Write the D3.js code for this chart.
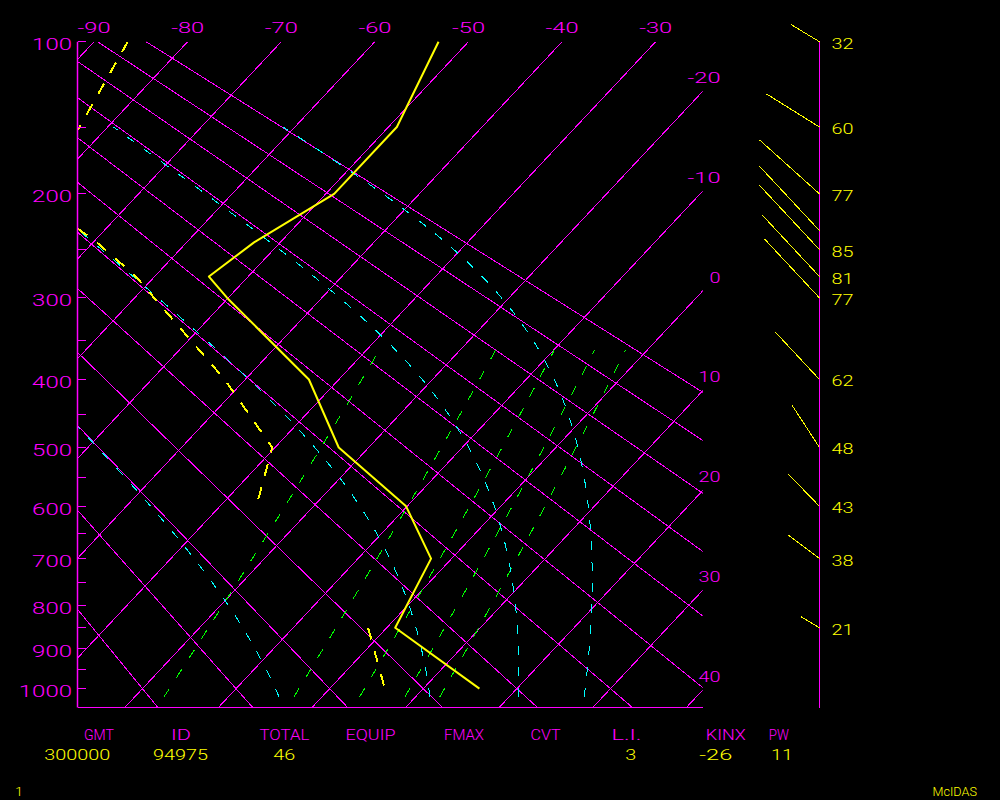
<!DOCTYPE html>
<html><head><meta charset="utf-8">
<script src="https://cdn.jsdelivr.net/npm/d3@7"></script>
<style>html,body{margin:0;padding:0;background:#000;overflow:hidden}</style>
</head><body>
<svg id="c" width="1000" height="800"></svg>
<script>
// ---------------- data ----------------
const levels      = [100, 150, 200, 243, 277, 300, 400, 500, 600, 700, 850, 1000];
const temperature = [-53.2, -49.1, -49.1, -52.8, -54.2, -50.1, -33.2, -23.2, -10.1, -2.2, 0.9, 16.0];
const dewpoint    = [-86.4, -83.0, -81.6, -69.6, -62.0, -57.9, -42.2, -30.3, -26.1, null, -2.0, 5.9];

const windLevels  = [100, 150, 200, 232, 250, 277, 300, 400, 500, 600, 700, 850];
const windDir     = [301, 302, 312, 317, 317, 317, 317, 317, 327, 316, 307, 301];
const windSpeed   = [32, 60, 77, 85, 85, 81, 77, 62, 48, 43, 38, 21];
const windLabeled = [true, true, true, false, true, true, true, true, true, true, true, true];

const pressureTicks      = [100, 200, 300, 400, 500, 600, 700, 800, 900, 1000];
const pressureMinorTicks = [150, 250, 350, 450, 550, 650, 750, 850, 950];
const isotherms     = [-90, -80, -70, -60, -50, -40, -30, -20, -10, 0, 10, 20, 30, 40];
const dryAdiabats   = [-20, -10, 0, 10, 20, 30, 40, 50, 60, 70, 80, 90];   // theta, deg C
const moistAdiabats = [-5.8, 10.6, 20.2, 27.3];                           // deg C at 1000 hPa
const mixingRatios  = [1, 3, 5, 7, 9];                                    // g/kg

const statHeaders = ["GMT", "ID", "TOTAL", "EQUIP", "FMAX", "CVT", "L.I.", "KINX", "PW"];
const statValues  = ["300000", "94975", "46", "", "", "", "3", "-26", "11"];

// ---------------- layout ----------------
const MAG = "#ff00ff", YEL = "#ffff00", CYA = "#00ffff", GRN = "#00ff00";
const FONT = "Roboto, Lato, 'DejaVu Sans', sans-serif";
const L = 77.5, R = 702.7, TOP = 41.7, BOT = 707.5;
const WIND_X = 819.5;

const svg = d3.select("#c");
svg.append("rect").attr("width", 1000).attr("height", 800).attr("fill", "#000");

const yScale = d3.scalePow().exponent(0.286).domain([100, 1050]).range([TOP, BOT]);
const tScale = d3.scaleLinear().domain([-30, 0]).range([655.7, 936.5]);
const SKEW = 0.938;
const X = (t, p) => tScale(t) - SKEW * (yScale(p) - TOP);

svg.append("clipPath").attr("id", "plot")
  .append("rect").attr("x", L).attr("y", TOP).attr("width", R - L).attr("height", BOT - TOP);
const g = svg.append("g").attr("clip-path", "url(#plot)").attr("shape-rendering", "crispEdges");

const line = d3.line().x(d => d[0]).y(d => d[1]);

// isotherms
g.selectAll(".iso").data(isotherms).join("path")
  .attr("d", t => line([[X(t, 100), yScale(100)], [X(t, 1050), yScale(1050)]]))
  .attr("stroke", MAG).attr("stroke-width", 1).attr("fill", "none");

// dry adiabats
const KA = 0.2843;
const pSteps = d3.range(100, 1051, 10);
g.selectAll(".dry").data(dryAdiabats).join("path")
  .attr("d", th => line(pSteps.map(p => [X((th + 273.15) * Math.pow(p / 1000, KA) - 273.15, p), yScale(p)])))
  .attr("stroke", MAG).attr("stroke-width", 1).attr("fill", "none");

// mixing ratio lines
const esat = tc => 6.112 * Math.exp(17.67 * tc / (tc + 243.5));
function tdFromW(w, p) {
  const es = w * p / (622 + w);
  const a = Math.log(es / 6.112);
  return 243.5 * a / (17.67 - a);
}
const pMix = d3.range(1022, 359, -6);
g.selectAll(".mix").data(mixingRatios).join("path")
  .attr("d", w => line(pMix.map(p => [X(tdFromW(w, p), p), yScale(p)])))
  .attr("stroke", GRN).attr("stroke-width", 1).attr("fill", "none")
  .attr("stroke-dasharray", "10,13");

// saturated adiabats (constant equivalent potential temperature)
const KM = 0.286;
function thetaE(tc, p) {
  const T = tc + 273.15, es = esat(tc), rs = 0.622 * es / (p - es);
  return T * Math.pow(1000 / p, KM) * Math.exp(2.5e6 * rs / (1004 * T));
}
function tempOnThetaE(te, p) {
  let lo = -120, hi = 50;
  for (let k = 0; k < 60; k++) { const mid = (lo + hi) / 2; if (thetaE(mid, p) > te) hi = mid; else lo = mid; }
  return (lo + hi) / 2;
}
const pMoist = d3.range(1022, 149, -4);
g.selectAll(".moist").data(moistAdiabats).join("path")
  .attr("d", t0 => { const te = thetaE(t0, 1000);
    return line(pMoist.map(p => [X(tempOnThetaE(te, p), p), yScale(p)])); })
  .attr("stroke", CYA).attr("stroke-width", 1).attr("fill", "none")
  .attr("stroke-dasharray", "9,12");

// axes
svg.append("line").attr("x1", L).attr("x2", L).attr("y1", TOP).attr("y2", BOT)
  .attr("stroke", MAG).attr("stroke-width", 1.5);
svg.append("line").attr("x1", L).attr("x2", R).attr("y1", BOT).attr("y2", BOT)
  .attr("stroke", MAG).attr("stroke-width", 1).attr("shape-rendering", "crispEdges");
svg.selectAll(".tick").data(pressureTicks.concat(pressureMinorTicks)).join("line")
  .attr("x1", L).attr("x2", 86).attr("y1", p => yScale(p)).attr("y2", p => yScale(p))
  .attr("stroke", MAG).attr("stroke-width", 1).attr("shape-rendering", "crispEdges");

function label(x, y, text, size, color, anchor, adv, len) {
  if (!text) return;
  svg.append("text").attr("x", x).attr("y", y).text(text)
    .attr("font-family", FONT).attr("font-weight", 300).attr("font-size", size).attr("fill", color)
    .attr("text-anchor", anchor)
    .attr("textLength", len || adv * text.length).attr("lengthAdjust", "spacingAndGlyphs");
}

// pressure labels
pressureTicks.forEach(p => label(72, yScale(p) + 8.3, String(p), 17.3, MAG, "end", 13.3));

// isotherm labels
isotherms.forEach(t => {
  const xt = X(t, 100);
  if (xt >= L && xt <= R) {
    label(xt, 32.7, String(t), 14, MAG, "middle", 11);
  } else {
    const yc = TOP + (tScale(t) - R) / SKEW;
    if (yc > TOP && yc < BOT) label(720.5, yc - 8.3, String(t), 14, MAG, "end", 11);
  }
});

// temperature & dewpoint
const sounding = levels.map((p, i) => ({p, t: temperature[i], td: dewpoint[i]}));
svg.append("path")
  .attr("d", d3.line().x(d => X(d.t, d.p)).y(d => yScale(d.p))(sounding))
  .attr("stroke", YEL).attr("stroke-width", 2).attr("fill", "none").attr("stroke-linejoin", "round");
g.append("path")
  .attr("d", d3.line().defined(d => d.td !== null).x(d => X(d.td, d.p)).y(d => yScale(d.p))(sounding))
  .attr("stroke", YEL).attr("stroke-width", 2).attr("fill", "none")
  .attr("stroke-dasharray", "12,12");

// wind column
svg.append("line").attr("x1", WIND_X).attr("x2", WIND_X).attr("y1", TOP).attr("y2", BOT)
  .attr("stroke", MAG).attr("stroke-width", 1).attr("shape-rendering", "crispEdges");
windLevels.forEach((p, i) => {
  const a = windDir[i] * Math.PI / 180, len = windSpeed[i] * 1.045;
  const y0 = yScale(p);
  svg.append("line").attr("x1", WIND_X).attr("y1", y0)
    .attr("x2", WIND_X + len * Math.sin(a)).attr("y2", y0 - len * Math.cos(a))
    .attr("stroke", YEL).attr("stroke-width", 1).attr("shape-rendering", "crispEdges");
  if (windLabeled[i]) label(831.5, y0 + 7, String(windSpeed[i]), 15, YEL, "start", 11);
});

// stats table
const headerX = [98.9, 181, 284.4, 370.5, 464, 545.5, 626.5, 725.8, 778.8];
const valueX  = [77.2, 180.5, 284.3, 0, 0, 0, 630.8, 715.8, 782];
statHeaders.forEach((h, i) => label(headerX[i], 740, h, 15, MAG, "middle", 10,
  h.includes(".") ? 30 : null));
statValues.forEach((v, i) => label(valueX[i], 760, v, 14, YEL, "middle", 11));

label(19, 796, "1", 12.7, YEL, "middle", 8);
label(954.7, 796, "McIDAS", 12.7, YEL, "middle", 7.4);
</script>
</body></html>
